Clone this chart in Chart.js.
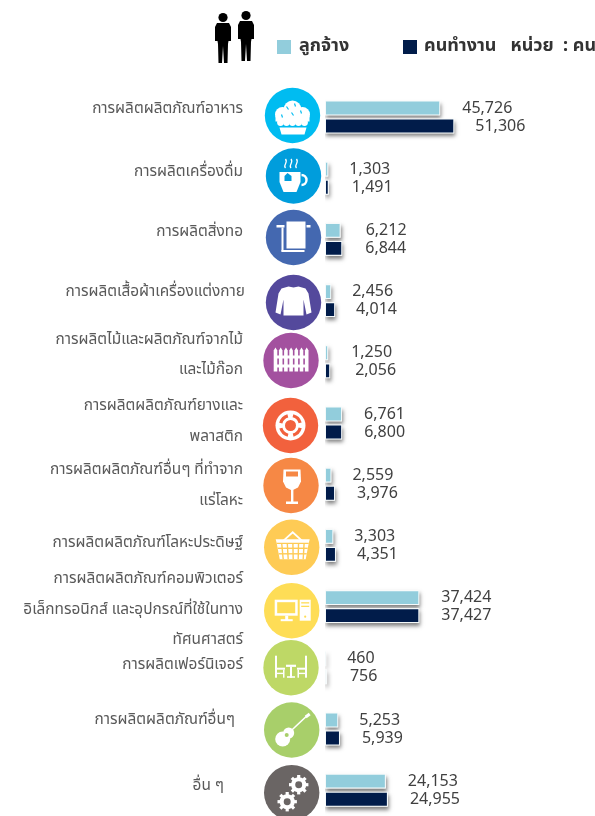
<!DOCTYPE html>
<html>
<head>
<meta charset="utf-8">
<script src="https://cdn.jsdelivr.net/npm/chart.js@4/dist/chart.umd.js"></script>
<style>
  html, body { margin: 0; padding: 0; background: #fff; overflow: hidden; height: 816px; }
  canvas { display: block; }
</style>
</head>
<body>
<canvas id="chart" width="595" height="830"></canvas>
<script>
const categories = [
  ['การผลิตผลิตภัณฑ์อาหาร'],
  ['การผลิตเครื่องดื่ม'],
  ['การผลิตสิ่งทอ'],
  ['การผลิตเสื้อผ้าเครื่องแต่งกาย'],
  ['การผลิตไม้และผลิตภัณฑ์จากไม้', 'และไม้ก๊อก'],
  ['การผลิตผลิตภัณฑ์ยางและ', 'พลาสติก'],
  ['การผลิตผลิตภัณฑ์อื่นๆ ที่ทำจาก', 'แร่โลหะ'],
  ['การผลิตผลิตภัณฑ์โลหะประดิษฐ์'],
  ['การผลิตผลิตภัณฑ์คอมพิวเตอร์', 'อิเล็กทรอนิกส์ และอุปกรณ์ที่ใช้ในทาง', 'ทัศนศาสตร์'],
  ['การผลิตเฟอร์นิเจอร์'],
  ['การผลิตผลิตภัณฑ์อื่นๆ'],
  ['อื่น ๆ']
]
const employees = [45726, 1303, 6212, 2456, 1250, 6761, 2559, 3303, 37424, 460, 5253, 24153]
const workers = [51306, 1491, 6844, 4014, 2056, 6800, 3976, 4351, 37427, 756, 5939, 24955]

// ตำแหน่งที่ปรับมือให้ตรงกับภาพ
const labelRight = [243, 243, 243, 245, 243, 243, 243, 243, 243, 243, 235, 224]
const labelShift = [-8, -7, -8, -9, -7, -2, 1, -3, 3, -3, -9, -5]
const employeeGap = [22, 21, 25, 21, 23, 22, 21, 21, 22, 21, 21, 22]
const workerGap = [21, 23, 23, 21, 25, 22, 22, 21, 22, 23, 22, 22]
const iconColors = ['#00bcf1', '#009ddc', '#4468b0', '#54499c', '#a3519f', '#f2613d', '#f68845', '#fecb55', '#fedd56', '#bed866', '#a8cf6a', '#6a6564']
const iconX = [292.5, 293.5, 293.5, 293.5, 291, 290.5, 291, 291.7, 291.7, 291, 291.7, 291.7]
const iconY = [115.5, 176, 237.5, 302.5, 360.5, 425.5, 485.5, 547.3, 610.7, 667.7, 730, 792.7]

const FONT = '"Noto Sans", "Noto Sans Thai", "Loma", "DejaVu Sans", sans-serif'

function disc(c, x, y, r) {
  c.beginPath()
  c.arc(x, y, r, 0, Math.PI * 2)
  c.fill()
}

function poly(c, pts) {
  c.beginPath()
  pts.forEach((p, i) => (i ? c.lineTo(p[0], p[1]) : c.moveTo(p[0], p[1])))
  c.closePath()
  c.fill()
}

function line(c, x1, y1, x2, y2, w) {
  c.lineWidth = w
  c.beginPath()
  c.moveTo(x1, y1)
  c.lineTo(x2, y2)
  c.stroke()
}

function gear(c, x, y, r, bg) {
  c.fillStyle = '#fff'
  disc(c, x, y, r * 0.78)
  for (let i = 0; i < 8; i++) {
    const a = i * Math.PI / 4
    c.strokeStyle = '#fff'
    line(c, x, y, x + Math.cos(a) * r, y + Math.sin(a) * r, 3.2)
  }
  c.fillStyle = bg
  disc(c, x, y, r * 0.36)
}

// ไอคอนสีขาวในวงกลม วาดรอบจุด 0,0
const icons = [
  (c, bg) => {
    disc(c, -10, -1, 7.5); disc(c, 10, -1, 7.5); disc(c, 0, -6, 9); disc(c, -5, 0, 8); disc(c, 5, 0, 8)
    c.fillRect(-17, 0, 34, 6)
    for (let i = 0; i < 5; i++) disc(c, -12 + i * 6, 7, 3.4)
    poly(c, [[-13, 12], [14, 12], [12, 19], [-11, 19]])
    c.strokeStyle = bg
    line(c, -6, -9, -4, -6, 1.2); line(c, 2, -12, 3, -9, 1.2); line(c, 8, -5, 9, -2, 1.2); line(c, -1, -3, 1, 0, 1.2); line(c, -11, -1, -10, 2, 1.2)
    line(c, -16, 11, 16, 11, 1.2)
  },
  (c, bg) => {
    poly(c, [[-14, -4], [7, -4], [7, 6], [3, 16], [-10, 16], [-14, 6]])
    c.strokeStyle = '#fff'
    c.lineWidth = 2.4
    c.beginPath(); c.arc(8, 4, 5, -Math.PI / 2, Math.PI / 2); c.stroke()
    c.lineWidth = 1.3
    ;[-8, -2.5, 3].forEach(x => {
      c.beginPath(); c.moveTo(x, -8)
      c.bezierCurveTo(x - 3, -11, x + 3, -13, x, -17)
      c.stroke()
    })
    c.fillStyle = bg
    poly(c, [[-6, -3], [-2, 0], [-2, 5], [-9, 5], [-9, 0]])
  },
  (c) => {
    c.fillRect(-7, -16, 19, 27)
    c.fillRect(-17, -12.5, 8, 2.5)
    c.fillRect(13, -12.5, 4, 2.5)
    c.fillRect(-12, -10, 2, 24)
    c.fillRect(-12, 12.5, 23, 2)
  },
  (c) => {
    poly(c, [[-5, -16], [0, -15], [5, -16], [12, -14], [15, -9], [18, 10], [13, 12], [10, -3], [10, 13], [-10, 13], [-10, -3], [-13, 12], [-18, 10], [-15, -9], [-12, -14]])
  },
  (c) => {
    for (let i = 0; i < 7; i++) {
      const x = -15.5 + i * 5.2
      poly(c, [[x - 1.8, 11], [x - 1.8, -10], [x, -13], [x + 1.8, -10], [x + 1.8, 11]])
    }
    c.fillRect(-17, -5, 34, 3)
    c.fillRect(-17, 4, 34, 3)
  },
  (c, bg) => {
    disc(c, 0, 0, 15)
    c.fillStyle = bg
    disc(c, 0, 0, 5.5)
    c.strokeStyle = bg
    for (let i = 0; i < 4; i++) {
      const a = i * Math.PI / 2 + 0.25
      c.lineWidth = 3.2
      c.beginPath(); c.arc(0, 0, 10, a, a + 1.05); c.stroke()
    }
  },
  (c, bg) => {
    poly(c, [[-7.5, -16], [9.5, -16], [10, -4], [7, 2], [1, 5], [-5, 2], [-8, -4]])
    c.fillRect(0, 4, 2.4, 14)
    c.fillRect(-5, 16, 12, 2.5)
    c.fillStyle = bg
    c.fillRect(-5, -14, 12, 5)
  },
  (c, bg) => {
    c.strokeStyle = '#fff'
    c.lineWidth = 1.8
    c.beginPath(); c.moveTo(-9, -6); c.lineTo(1, -15); c.lineTo(11, -6); c.stroke()
    poly(c, [[-16, -8], [18, -8], [17, -4], [14, 12], [-12, 12], [-15, -4]])
    c.strokeStyle = bg
    for (let i = 0; i < 5; i++) line(c, -10 + i * 5.6, -4, -8.5 + i * 5, 12, 1.4)
    line(c, -15, -4, 17, -4, 1.2)
    line(c, -14, 1, 16, 1, 1.4)
    line(c, -13, 6.5, 15, 6.5, 1.4)
  },
  (c, bg) => {
    c.fillRect(-17, -11, 23, 16)
    c.fillRect(-6.5, 5, 3, 5)
    c.fillRect(-11, 8.5, 12, 2)
    c.fillRect(8, -11, 11, 21)
    c.fillStyle = bg
    c.fillRect(-14.5, -8.5, 18, 11)
    c.fillRect(9.5, -8.5, 8, 1.3)
    c.fillRect(9.5, -5, 8, 1.3)
    disc(c, 13.5, 6, 1.1)
  },
  (c) => {
    c.fillRect(-16, -12, 2, 22); c.fillRect(14, -12, 2, 22)
    c.fillRect(-14, 0, 8, 2); c.fillRect(6, 0, 8, 2)
    c.fillRect(-8, 2, 1.5, 8); c.fillRect(6.5, 2, 1.5, 8)
    c.fillRect(-14, 5, 7, 1.4); c.fillRect(7, 5, 7, 1.4)
    c.fillRect(-5, -3, 10, 2.2)
    c.fillRect(-1, -1, 2, 11)
    c.fillRect(-4, 8.5, 8, 1.6)
  },
  (c, bg) => {
    disc(c, -9, 9, 7.5); disc(c, -3, 3, 5.5)
    c.strokeStyle = '#fff'
    line(c, -3, 3, 15, -14, 1.6)
    line(c, 14, -13, 18, -16, 3)
    c.fillStyle = bg
    disc(c, -5, 5, 2)
  },
  (c, bg) => {
    gear(c, 7, -8, 9.7, bg)
    gear(c, -4.5, 9, 9.7, bg)
  }
]

function person(c, x, top) {
  c.fillStyle = '#000'
  disc(c, x, top + 4.5, 4.6)
  poly(c, [
    [x - 6, top + 10], [x + 6, top + 10], [x + 8, top + 14], [x + 8, top + 28], [x + 5.5, top + 28], [x + 5, top + 31],
    [x + 4.5, top + 50], [x + 1, top + 50], [x, top + 33], [x - 1, top + 50], [x - 4.5, top + 50], [x - 5, top + 31],
    [x - 5.5, top + 28], [x - 8, top + 28], [x - 8, top + 14]
  ])
}

// เงาของแท่ง วาดก่อนตัวแท่งจากตำแหน่งของ element
const barShadow = {
  id: 'barShadow',
  beforeDatasetsDraw(chart) {
    const c = chart.ctx
    const area = chart.chartArea
    c.save()
    c.beginPath()
    c.rect(area.left, area.top, area.width, area.height)
    c.clip()
    c.fillStyle = '#fff'
    c.shadowColor = 'rgba(0,0,0,0.5)'
    c.shadowBlur = 4
    c.shadowOffsetX = 1
    c.shadowOffsetY = 3
    chart.data.datasets.forEach((ds, d) => {
      chart.getDatasetMeta(d).data.forEach(bar => {
        c.fillRect(bar.base, bar.y - bar.height / 2, bar.x - bar.base, bar.height)
      })
    })
    c.restore()
  }
}

const decorations = {
  id: 'decorations',
  afterDraw(chart) {
    const c = chart.ctx
    const yScale = chart.scales.y
    const gaps = [employeeGap, workerGap]
    c.save()

    // ตัวเลขท้ายแท่ง
    c.font = '16px ' + FONT
    c.fillStyle = '#404040'
    c.textAlign = 'left'
    c.textBaseline = 'middle'
    chart.data.datasets.forEach((ds, d) => {
      chart.getDatasetMeta(d).data.forEach((bar, i) => {
        c.fillText(ds.data[i].toLocaleString('en-US'), bar.x + gaps[d][i], bar.y)
      })
    })

    // ชื่ออุตสาหกรรม
    c.font = '15.4px ' + FONT
    c.fillStyle = '#595959'
    c.textAlign = 'right'
    categories.forEach((lines, i) => {
      const mid = yScale.getPixelForValue(i) + labelShift[i]
      lines.forEach((text, n) => {
        c.fillText(text, labelRight[i], mid + (n - (lines.length - 1) / 2) * 30.5)
      })
    })

    // ไอคอน
    icons.forEach((draw, i) => {
      c.save()
      c.translate(iconX[i], iconY[i])
      c.fillStyle = iconColors[i]
      disc(c, 0, 0, 27.7)
      c.fillStyle = '#fff'
      c.strokeStyle = '#fff'
      draw(c, iconColors[i])
      c.restore()
    })

    // ส่วนหัว
    person(c, 223, 13)
    person(c, 246, 11)
    c.font = 'bold 18px ' + FONT
    c.textAlign = 'left'
    chart.data.datasets.forEach((ds, d) => {
      const x = d ? 403 : 277
      c.fillStyle = ds.backgroundColor
      c.fillRect(x, 40, 14, 14)
      c.fillStyle = '#333333'
      c.fillText(ds.legendText, x + (d ? 21 : 22), 46)
    })
    c.restore()
  }
}

new Chart(document.getElementById('chart'), {
  type: 'bar',
  plugins: [barShadow, decorations],
  data: {
    labels: categories.map(l => l.join(' ')),
    datasets: [
      { label: 'ลูกจ้าง', legendText: 'ลูกจ้าง', data: employees, backgroundColor: '#92cddc', borderColor: '#f4f9fa', borderWidth: 1, borderSkipped: false },
      { label: 'คนทำงาน', legendText: 'คนทำงาน   หน่วย  : คน', data: workers, backgroundColor: '#011c4a', borderColor: '#f4f9fa', borderWidth: 1, borderSkipped: false }
    ]
  },
  options: {
    indexAxis: 'y',
    responsive: false,
    animation: false,
    layout: { padding: { left: 325, right: 118.8, top: 86.4, bottom: 9.2 } },
    datasets: { bar: { categoryPercentage: 0.59, barPercentage: 0.82 } },
    plugins: { legend: { display: false }, tooltip: { enabled: false } },
    scales: {
      x: { display: false, min: 0, max: 60000 },
      y: { display: false }
    }
  }
})
</script>
</body>
</html>
